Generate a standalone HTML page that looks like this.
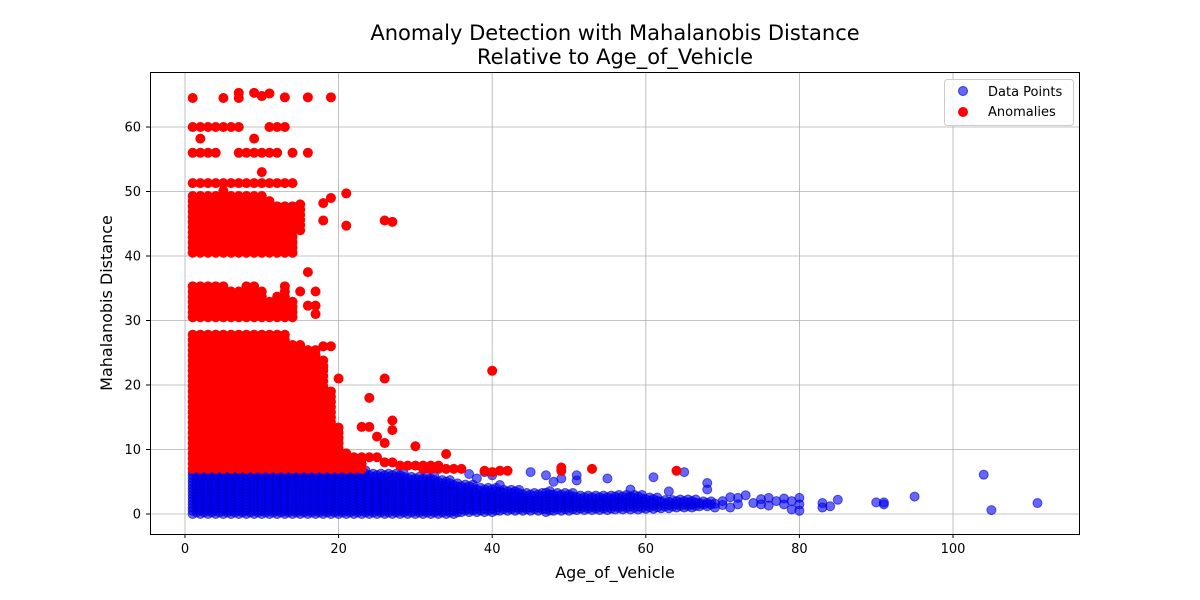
<!DOCTYPE html>
<html><head><meta charset="utf-8"><style>
body{margin:0;background:#fff;font-family:"DejaVu Sans","Liberation Sans",sans-serif}
svg{display:block;font-family:"DejaVu Sans","Liberation Sans",sans-serif}
</style></head><body>
<svg id="chart" width="1200" height="600" xmlns="http://www.w3.org/2000/svg">
<text x="615" y="40" text-anchor="middle" font-size="21">Anomaly Detection with Mahalanobis Distance</text>
<text x="615" y="64" text-anchor="middle" font-size="21">Relative to Age_of_Vehicle</text>
<g id="grid"></g><g id="blue"></g><g id="red"></g><g id="axes"></g>
<rect x="150.5" y="72.5" width="929" height="462" fill="none" stroke="#000" stroke-width="1"/>
<text x="615" y="578" text-anchor="middle" font-size="16">Age_of_Vehicle</text>
<text transform="translate(112,303) rotate(-90)" text-anchor="middle" font-size="16">Mahalanobis Distance</text>
<g>
<rect x="944.5" y="79.5" width="129" height="46" rx="3" fill="#fff" fill-opacity="0.8" stroke="#ccc"/>
<circle cx="963" cy="91" r="4.5" fill="rgba(0,0,255,0.6)" stroke="rgba(0,0,200,0.7)"/>
<text x="988" y="96" font-size="13">Data Points</text>
<circle cx="963" cy="112" r="5" fill="#f00"/>
<text x="988" y="116" font-size="13">Anomalies</text>
</g>
</svg>
<script>
const xTicks=[0,20,40,60,80,100];
const yTicks=[0,10,20,30,40,50,60];
// blue dense columns: [age, low, high]
const blueBands=[[1,0,6.5],[2,0,6.5],[3,0,6.5],[4,0,6.5],[5,0,6.5],[6,0,6.5],[7,0,6.5],[8,0,6.5],[9,0,6.5],[10,0,6.5],[11,0,6.5],[12,0,6.5],[13,0,6.5],[14,0,6.5],[15,0,6.5],[16,0,6.5],[17,0,6.5],[18,0,6.5],[19,0,6.5],[20,0,6.5],[21,0,6.5],[22,0,6.5],[23,0,6.5],[24,0,6.3],[25,0,6.3],[26,0,6],[27,0,6],[28,0,6],[29,0,5.8],[30,0,5.8],[31,0,5.5],[32,0,5.5],[33,0,5],[34,0,5],[35,0,4.8],[36,0.3,4.5],[37,0.3,4.3],[38,0.3,4.2],[39,0.3,4],[40,0.3,4],[41,0.5,3.8],[42,0.5,3.6],[43,0.5,3.5],[44,0.5,3.4],[45,0.5,3.4],[46,0.5,3.3],[47,0.3,3.3],[48,0.5,3.2],[49,0.5,3.2],[50,0.5,3.1],[51,0.6,3],[52,0.6,3],[53,0.6,3],[54,0.6,2.9],[55,0.6,2.9],[56,0.7,2.8],[57,0.7,2.8],[58,0.7,2.7],[59,0.7,2.7],[60,0.8,2.6],[61,0.8,2.4],[62,0.9,2.3],[63,0.9,2.2],[64,1,2.2],[65,1,2.1],[66,1,2],[67,1.2,2],[68,1.2,1.9]];
const blueAges=[37,38,39,40,41,45,47,48,49,51,51,55,58,61,63,65,68,68,104,105,111,95,90,91,91,85,83,83,84,80,80,80,79,79,78,78,77,76,76,75,75,74,73,72,72,71,71,70,70,69,69];
const blueDist=[6.2,5.5,6.5,6,4.5,6.5,6,5,5.5,6,5.2,5.5,3.8,5.7,3.5,6.5,4.8,3.8,6.1,0.6,1.7,2.7,1.8,1.5,1.8,2.2,1.7,1,1.2,2.5,1.5,0.5,2,0.7,2.4,1.5,2,2.5,1.3,2.3,1.5,1.7,2.9,2.5,1.5,2.6,1,2,1.4,1,1.6];
// red dense columns: [age, low, high]
const redBands=[[1,7,28],[2,7,28],[3,7,28],[4,7,28],[5,7,28],[6,7,28],[7,7,28],[8,7,28],[9,7,28],[10,7,28],[11,7,28],[12,7,28],[13,7,28],[14,7,27],[15,7,27],[16,7,26],[17,7,26],[18,7,24],[19,7,19.5],[20,7,13.5],[21,7,10],[22,7,9.3],[23,7,9],[1,30.5,36],[2,30.5,36],[3,30.5,36],[4,30.5,35.5],[5,30.5,36],[6,30.5,35],[7,30.5,35],[8,30.5,36],[9,30.5,36],[10,30.5,35],[11,30.5,33],[12,30.5,34],[13,30.5,36],[14,30.5,33],[1,40.5,50],[2,40.5,50],[3,40.5,50],[4,40.5,50],[5,40.5,50.5],[6,40.5,50],[7,40.5,50],[8,40.5,50],[9,40.5,50],[10,40.5,50],[11,40.5,49],[12,40.5,48],[13,40.5,48],[14,40.5,48],[15,44,48]];
const redAges=[1,5,7,7,9,10,11,13,16,19,1,2,3,4,5,6,7,11,12,13,1,2,3,4,7,8,9,10,11,12,14,16,2,9,10,1,2,3,4,5,6,7,8,9,10,11,12,13,14,21,18,19,18,26,27,21,16,15,17,16,17,17,18,19,18,20,26,40,24,27,23,24,27,25,26,30,34,22,23,24,25,26,27,28,29,30,31,32,33,31,32,33,34,35,36,39,41,42,64,49,53,49,40];
const redDist=[64.5,64.5,65.3,64.5,65.3,64.8,65.2,64.6,64.6,64.6,60,60,60,60,60,60,60,60,60,60,56,56,56,56,56,56,56,56,56,56,56,56,58.2,58.2,53,51.3,51.3,51.3,51.3,51.3,51.3,51.3,51.3,51.3,51.3,51.3,51.3,51.3,51.3,49.7,48.2,49,45.5,45.5,45.3,44.7,37.5,34.5,34.5,32.3,32.3,31,26,26,22.8,21,21,22.2,18,14.5,13.5,13.5,13,12,11,10.5,9.3,8.8,8.8,8.8,8.8,8,8,7.5,7.5,7.5,7.5,7.5,7.5,7,7,7,7,7,7,6.7,6.7,6.7,6.7,7.2,7,6.7,6.5];
const NS="http://www.w3.org/2000/svg";
const X=v=>185+v*7.68, Y=v=>514-v*6.45;
const g=id=>document.getElementById(id);
function mk(t,a,p){const e=document.createElementNS(NS,t);for(const k in a)e.setAttribute(k,a[k]);p.appendChild(e);return e;}
xTicks.forEach(t=>{
 const l=mk('line',{x1:X(t),x2:X(t),y1:72,y2:534,stroke:'#b0b0b0','stroke-width':0.8},g('grid'));
 
 
 mk('line',{x1:X(t),x2:X(t),y1:534,y2:538,stroke:'#000'},g('axes'));
 const tx=mk('text',{x:X(t),y:553,'text-anchor':'middle','font-size':13},g('axes'));tx.textContent=t;
 
 
});
yTicks.forEach(t=>{
 const l=mk('line',{x1:150,x2:1080,y1:Y(t),y2:Y(t),stroke:'#b0b0b0','stroke-width':0.8},g('grid'));
 
 
 mk('line',{x1:146,x2:150,y1:Y(t),y2:Y(t),stroke:'#000'},g('axes'));
 const tx=mk('text',{x:141,y:Y(t)+4.5,'text-anchor':'end','font-size':13},g('axes'));tx.textContent=t;
 
 
});
function dot(layer,a,d,isRed){
 const c=mk('circle',isRed?{cx:X(a),cy:Y(d),r:5,fill:'#f00'}:{cx:X(a),cy:Y(d),r:4.5,fill:'rgba(0,0,255,0.6)',stroke:'rgba(0,0,180,0.6)','stroke-width':1},layer);
 
 
}
blueBands.forEach(([a,lo,hi])=>{for(let d=lo;d<=hi;d+=0.5){dot(g('blue'),a,d,false);dot(g('blue'),a+0.5,d+0.25,false);}});
blueAges.forEach((a,i)=>dot(g('blue'),a,blueDist[i],false));
redBands.forEach(([a,lo,hi])=>{for(let d=lo;d<=hi;d+=0.8){dot(g('red'),a,d,true);}});
redAges.forEach((a,i)=>dot(g('red'),a,redDist[i],true));
</script>
</body></html>
